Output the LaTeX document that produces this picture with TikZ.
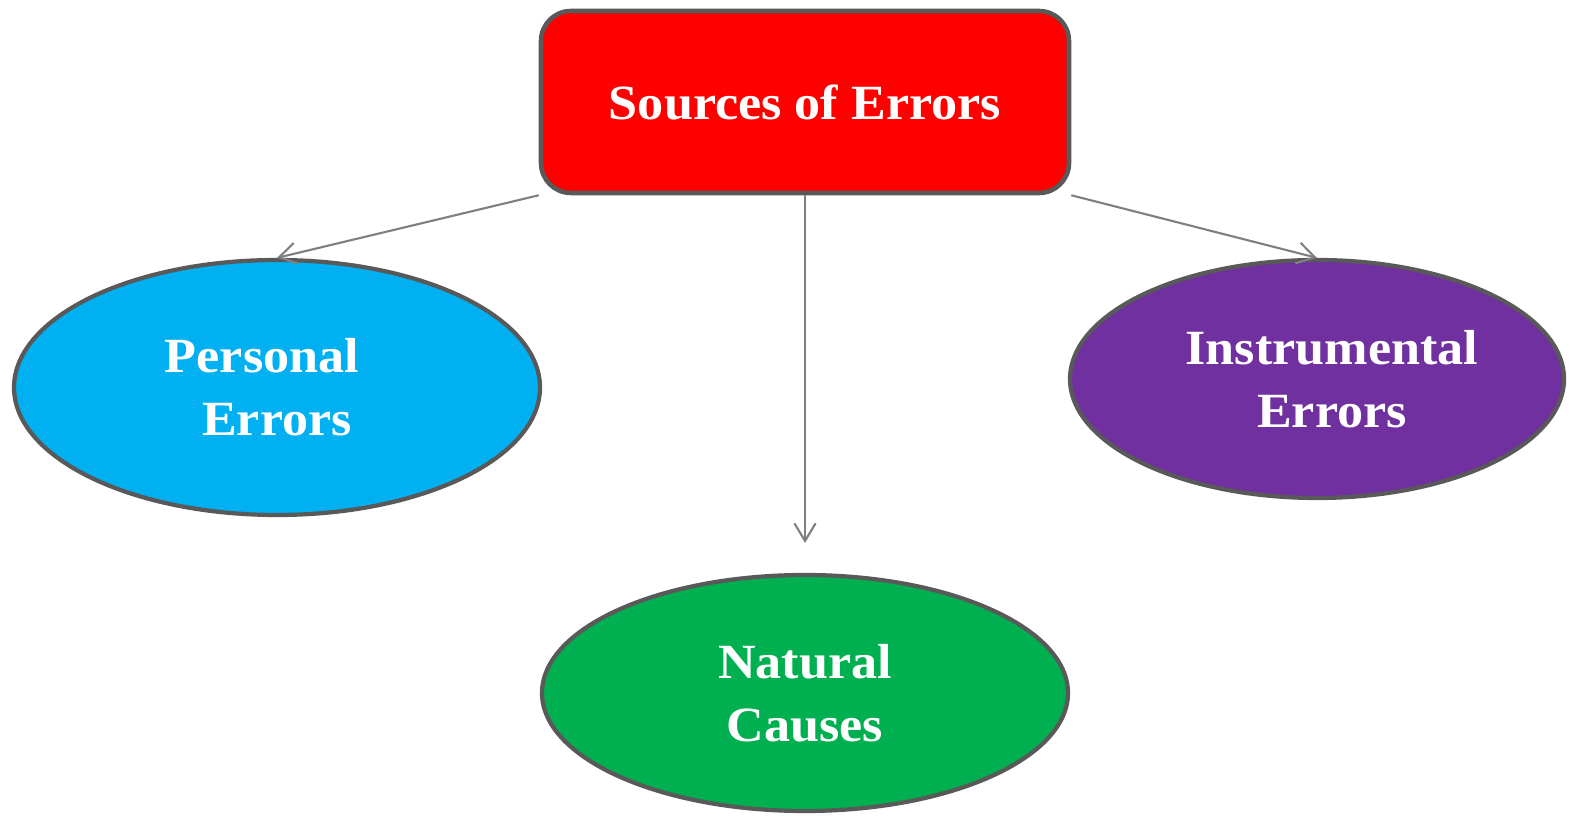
\documentclass[tikz,border=0pt]{standalone}
\usepackage{fontspec}
\newfontfamily\errfont[FakeStretch=1.06]{Liberation Serif}
\usetikzlibrary{arrows.meta,shapes.geometric}
\definecolor{ErrRed}{HTML}{FF0000}
\definecolor{ErrBlue}{HTML}{00B0F0}
\definecolor{ErrPurple}{HTML}{7030A0}
\definecolor{ErrGreen}{HTML}{00B050}
\definecolor{ErrEdge}{HTML}{595959}
\definecolor{ErrLink}{HTML}{7F7F7F}

\begin{document}
\begin{tikzpicture}[
          topbox/.style={draw=ErrEdge,fill=ErrRed,line width=1.3pt,
            rounded corners=0.3cm,minimum width=5.28cm,minimum height=1.82cm,
            inner sep=0pt},
          kind/.style={draw=ErrEdge,ellipse,line width=1.2pt,inner sep=0pt,
            align=center},
          label/.style={text=white,font=\errfont\bfseries\fontsize{14}{18}\selectfont},
          link/.style={draw=ErrLink,line width=0.6pt,
            -{Straight Barb[length=5pt,width=6pt]}}
        ]
        \useasboundingbox (0,0) rectangle (15.7,8.17);
        \node[topbox,label] (src) at (8.05,7.15) {Sources of Errors};
        \node[kind,label,fill=ErrBlue,minimum width=5.26cm,minimum height=2.55cm]
          (pers) at (2.77,4.295) {Personal\kern0.3cm\\ Errors};
        \node[kind,label,fill=ErrPurple,minimum width=4.94cm,minimum height=2.38cm]
          (inst) at (13.17,4.38) {\kern0.3cm Instrumental\\ \kern0.3cm Errors};
        \node[kind,label,fill=ErrGreen,minimum width=5.26cm,minimum height=2.36cm]
          (nat) at (8.05,1.24) {Natural\\ Causes};
        \coordinate (natin) at (8.05,2.74);
        \draw[link] (src.south west) -- (pers.north);
        \draw[link] (src.south) -- (natin);
        \draw[link] (src.south east) -- (inst.north);
      \end{tikzpicture}
\end{document}
